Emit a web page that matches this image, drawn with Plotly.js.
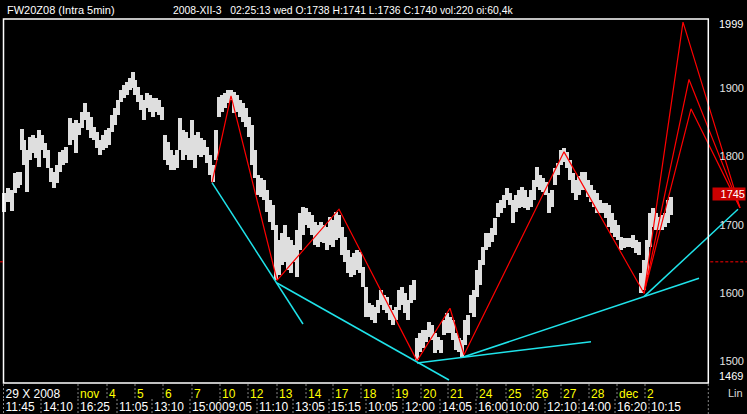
<!DOCTYPE html>
<html><head><meta charset="utf-8">
<script src="https://cdn.plot.ly/plotly-3.0.1.min.js"></script>
<style>html,body{margin:0;padding:0;background:#000;}#chart{width:747px;height:414px;}</style>
</head><body><div id="chart"></div>
<script>
// ---- data (x = 5-min bar slot, y = price) ----
const slots = [0,4,8,11,14,16,18,20,23,26, 29,32,35,38,41,44,47,50,53,56, 59,62,66,69,72,75,78,81,84,87,
 90,93,96,99,102,105,108,111,114,117, 120,123,126,129,131,134,137,140,143,146, 149,152,155,158,161,164,167,170,173,176,
 179,182,185,188,191,194,197,200,203,206, 209,212,215,218,221,224,227,230,233,236, 239,242,245,248,251,254,257,260,263,266,
 269,272,275,278,281,284,287,290,293,296, 299,302,305,308,311,314,317,320,323,326, 329,332,335,338,341,344,347,350,353,356,
 359,362,365,368,371,374,377,380,383,386, 389,392,395,398,401,404,407,410,413,416, 419,422,425,428,431,434,437,440,443,446,
 449,452,455,458,461,464,467,470,473,476, 479,482,485,488,491,494,497,500,503,506, 509,512,515,518,521,524,527,530,533,536,
 539,542,545,548,551,554,557,560,563,566, 569,572,575,578,581,584,587,590,593,596, 599,602,605,608,611,614,617,620,623,626,
 629,632,635,637,640,643,646,649,652,655, 658,661,664,667];
const highs = [1747,1754,1751,1776,1778,1778,1840,1824,1810,1829, 1832,1827,1839,1832,1820,1810,1783,1778,1788,1807,
 1810,1814,1857,1849,1854,1849,1865,1879,1865,1858, 1843,1836,1824,1832,1839,1842,1861,1871,1883,1898,
 1905,1909,1915,1924,1912,1902,1890,1883,1893,1890, 1886,1886,1883,1873,1832,1821,1810,1802,1810,1857,
 1839,1836,1827,1854,1832,1836,1827,1824,1814,1802, 1788,1839,1887,1890,1893,1898,1898,1895,1890,1883,
 1879,1871,1858,1846,1810,1773,1769,1766,1751,1737, 1729,1700,1678,1688,1700,1682,1678,1671,1693,1717,
 1726,1725,1719,1715,1704,1700,1704,1700,1697,1712, 1707,1719,1715,1697,1682,1663,1653,1659,1663,1660,
 1638,1609,1586,1583,1580,1590,1605,1597,1595,1583, 1576,1580,1605,1609,1600,1590,1612,1619,1535,1542,
 1546,1546,1558,1554,1542,1536,1532,1561,1571,1565, 1561,1542,1535,1532,1561,1568,1597,1605,1634,1649,
 1668,1688,1688,1696,1710,1732,1737,1744,1754,1747, 1737,1744,1751,1756,1751,1741,1751,1766,1785,1773,
 1769,1763,1747,1751,1783,1791,1810,1813,1807,1795, 1776,1766,1772,1778,1778,1766,1758,1751,1747,1737,
 1732,1732,1729,1717,1707,1700,1682,1681,1681,1681, 1685,1678,1675,1630,1649,1678,1717,1725,1717,1712,
 1715,1717,1737,1741];
const lows = [1719,1734,1720,1747,1754,1758,1810,1788,1748,1795, 1805,1798,1785,1810,1798,1783,1763,1754,1761,1778,
 1788,1791,1817,1824,1805,1832,1842,1854,1839,1827, 1824,1813,1802,1810,1813,1817,1836,1846,1861,1880,
 1886,1890,1898,1900,1890,1880,1868,1854,1871,1865, 1858,1865,1861,1854,1795,1788,1780,1780,1783,1810,
 1795,1802,1795,1795,1783,1802,1800,1802,1791,1773, 1763,1795,1858,1865,1871,1879,1883,1864,1865,1858,
 1851,1843,1829,1788,1769,1744,1741,1737,1719,1704, 1693,1619,1627,1641,1646,1634,1630,1646,1624,1663,
 1685,1700,1696,1685,1671,1668,1675,1674,1663,1671, 1668,1678,1681,1656,1646,1630,1624,1627,1634,1630,
 1609,1565,1565,1561,1556,1571,1583,1576,1571,1561, 1554,1561,1576,1583,1571,1561,1586,1590,1502,1514,
 1520,1529,1536,1532,1513,1517,1513,1539,1542,1542, 1532,1517,1514,1507,1524,1539,1571,1565,1595,1612,
 1641,1663,1668,1675,1685,1712,1717,1725,1737,1729, 1703,1719,1725,1726,1725,1722,1726,1737,1756,1751,
 1748,1744,1717,1726,1758,1773,1788,1792,1783,1766, 1747,1737,1744,1751,1751,1741,1734,1726,1717,1717,
 1717,1710,1697,1688,1682,1678,1663,1666,1668,1668, 1666,1659,1656,1600,1605,1627,1668,1697,1693,1693,
 1693,1697,1703,1715];

// drawn zigzag (red) and trend lines (cyan)
const zigX = [208,227,273,335,413,446,460,560,640];
const zigY = [1762,1889,1619,1723,1501,1578,1510,1807,1600];
const projX = [[640,679,736],[640,685,736],[640,687,736]];
const projY = [[1600,1997,1725],[1600,1913,1725],[1600,1870,1725]];
const trendX = [[208,299],[273,445],[413,587],[460,695],[640,734]];
const trendY = [[1762,1555],[1615,1473],[1498,1529],[1507,1622],[1595,1723]];

const priceTicks = [1500,1600,1700,1800,1900];
const topPrice = 1999;
const lastPrice = 1745;
const refPrice = 1646;
const lowBound = 1469;

const dateSlots = [-0.5,74,103,131,159,188,216,244,273,302,329,357,389,417,444,473,502,529,557,585,613,641];
const dateLabels = ['29 X 2008','nov','4','5','6','7','10','12','13','14','17','18','19','20','21','24','25','26','27','28','dec','2'];
const timeSlots = [-0.5,37,74,113,148,186,216,253,289,325,362,399,436,472,503,541,575,611,645];
const timeLabels = ['11:45','14:10','16:25','11:05','13:10','15:00','09:05','11:10','13:05','15:15','10:05','12:00','14:05','16:00','10:00','12:10','14:00','16:20','10:15'];

const frameLeft = -0.5, frameRight = 704.3;
const FONT = 'Arial, "Liberation Sans", sans-serif';

// ---- traces ----
const traces = [];
traces.push({type:'bar', x:slots, base:lows, y:highs.map((h,i)=>h-lows[i]), width:3.1,
  marker:{color:'#dedede', line:{width:0}}, hoverinfo:'skip', xaxis:'x', yaxis:'y'});
traces.push({type:'scatter', mode:'lines', x:zigX, y:zigY, line:{color:'#ff0000', width:1.2}, hoverinfo:'skip'});
projX.forEach((px,i)=>traces.push({type:'scatter', mode:'lines', x:px, y:projY[i], line:{color:'#ff0000', width:1.2}, hoverinfo:'skip'}));
trendX.forEach((tx,i)=>traces.push({type:'scatter', mode:'lines', x:tx, y:trendY[i], line:{color:'#1fe3ea', width:1.5}, hoverinfo:'skip'}));
// date row axis (overlay)
traces.push({type:'scatter', mode:'none', x:[dateSlots[0]], y:[lowBound+100], xaxis:'x2', yaxis:'y', hoverinfo:'skip'});

// ---- shapes ----
const shapes = [];
shapes.push({type:'rect', xref:'x', yref:'paper', x0:frameLeft, x1:frameRight, y0:0, y1:1, line:{color:'#ffffff', width:1.5}, layer:'above'});
shapes.push({type:'line', xref:'x', yref:'y', x0:-4, x1:frameLeft, y0:refPrice, y1:refPrice, line:{color:'#ff0000', width:1, dash:'3px,2px'}});
shapes.push({type:'line', xref:'x', yref:'y', x0:frameRight+2, x1:743, y0:refPrice, y1:refPrice, line:{color:'#ff0000', width:1, dash:'3px,2px'}});
const r1a = -0.003, r1b = -0.044, r2b = -0.087;
dateSlots.forEach(s=>shapes.push({type:'line', xref:'x', yref:'paper', x0:s, x1:s, y0:r1a, y1:r1b, line:{color:'#8a8a8a', width:1, dash:'2px,2px'}}));
timeSlots.forEach(s=>shapes.push({type:'line', xref:'x', yref:'paper', x0:s, x1:s, y0:r1b, y1:r2b, line:{color:'#8a8a8a', width:1, dash:'2px,2px'}}));
shapes.push({type:'line', xref:'x', yref:'paper', x0:frameRight, x1:frameRight, y0:r1a, y1:r2b, line:{color:'#8a8a8a', width:1, dash:'2px,2px'}});

// ---- annotations ----
const annotations = [
  {xref:'paper', yref:'paper', x:5/747, y:1, xanchor:'left', yanchor:'bottom', yshift:1, showarrow:false,
   text:'FW20Z08 (Intra 5min)', font:{family:FONT, size:11, color:'#ffffff'}},
  {xref:'paper', yref:'paper', x:171/747, y:1, xanchor:'left', yanchor:'bottom', yshift:1, showarrow:false,
   text:'2008-XII-3&nbsp;&nbsp;&nbsp;02:25:13 wed O:1738 H:1741 L:1736 C:1740 vol:220 oi:60,4k', font:{family:FONT, size:10.4, color:'#ffffff'}},
  {xref:'paper', yref:'y', x:1, y:topPrice, xanchor:'right', yanchor:'middle', xshift:-2, yshift:-3, showarrow:false,
   text:String(topPrice), font:{family:FONT, size:11, color:'#ffffff'}},
  {xref:'paper', yref:'y', x:1, y:lastPrice, xanchor:'right', yanchor:'middle', xshift:-1, showarrow:false,
   text:String(lastPrice), bgcolor:'#cc0000', width:32, height:12, borderpad:0, align:'right',
   font:{family:FONT, size:11, color:'#ffffff'}},
  {xref:'paper', yref:'y', x:1, y:lowBound, xanchor:'right', yanchor:'bottom', xshift:-2, yshift:-1, showarrow:false,
   text:String(lowBound), font:{family:FONT, size:11, color:'#ffffff'}},
  {xref:'paper', yref:'paper', x:1, y:0, xanchor:'right', yanchor:'top', xshift:-2, yshift:-2, showarrow:false,
   text:'Lin', font:{family:FONT, size:11, color:'#d8d8d8'}}
];

const layout = {
  width:747, height:414, paper_bgcolor:'#000000', plot_bgcolor:'#000000',
  margin:{l:0, r:0, t:19, b:31}, showlegend:false, bargap:0,
  xaxis:{range:[-4,743], showgrid:false, zeroline:false, showline:false, ticks:'', tickangle:0, automargin:false,
    tickmode:'array', tickvals:timeSlots, ticktext:timeLabels, ticklabelposition:'outside right',
    ticklabelstandoff:15, ticklabelshift:2, tickfont:{family:FONT, size:12, color:'#ffffff'}, fixedrange:true},
  xaxis2:{overlaying:'x', matches:'x', side:'bottom', anchor:'y', range:[-4,743], showgrid:false, zeroline:false, showline:false, ticks:'',
    tickangle:0, automargin:false, tickmode:'array', tickvals:dateSlots,
    ticktext:dateLabels.map((t,i)=> i===0 ? '<span style="color:#ffffff">'+t+'</span>' : t),
    ticklabelposition:'outside right', ticklabelstandoff:2, ticklabelshift:2,
    tickfont:{family:FONT, size:12, color:'#ffff00'}, fixedrange:true},
  yaxis:{range:[1468.6,2001.5], side:'right', showgrid:false, zeroline:false, showline:false, ticks:'',
    tickmode:'array', tickvals:priceTicks, ticktext:priceTicks.map(String), ticklabelposition:'inside',
    tickfont:{family:FONT, size:11, color:'#e4e4e4'}, fixedrange:true},
  shapes:shapes, annotations:annotations
};

Plotly.newPlot('chart', traces, layout, {staticPlot:true, displayModeBar:false});
</script></body></html>
